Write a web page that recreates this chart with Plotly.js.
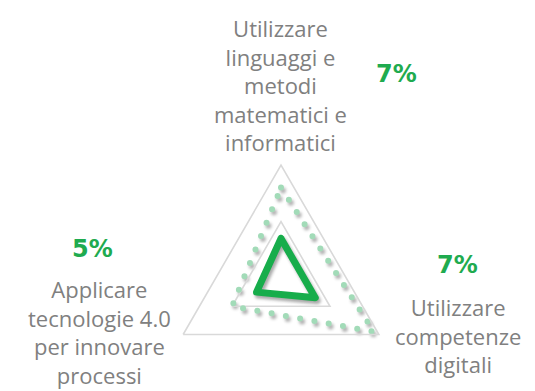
<!DOCTYPE html>
<html>
<head>
<meta charset="utf-8">
<script src="https://cdn.plot.ly/plotly-3.0.1.min.js"></script>
<style>
  html, body { margin: 0; padding: 0; background: #ffffff; overflow: hidden; }
  #wrap { position: relative; width: 535px; height: 391px; }
  #shadow { position: absolute; left: 2px; top: 3px; width: 535px; height: 391px; filter: blur(1.6px); opacity: 0.45; }
  #chart { position: absolute; left: 0; top: 0; width: 535px; height: 391px; }
  .js-line { stroke-linecap: round; stroke-linejoin: round; }
</style>
</head>
<body>
<div id="wrap">
  <div id="shadow"></div>
  <div id="chart"></div>
</div>
<script>
// ---- data ----
const categories = [
  "Utilizzare linguaggi e metodi matematici e informatici",
  "Utilizzare competenze digitali",
  "Applicare tecnologie 4.0 per innovare processi"
];
const labelLines = [
  "Utilizzare<br>linguaggi e<br>metodi<br>matematici e<br>informatici",
  "Utilizzare<br>competenze<br>digitali",
  "Applicare<br>tecnologie 4.0<br>per innovare<br>processi"
];
const seriesMain = [7, 7, 5];          // solid green (%)
const seriesRef = [16, 19, 10];        // dotted light green (%)
const valueLabels = ["7%", "7%", "5%"];
const radialTicks = [10, 20];
const radialMax = 20;

// ---- helpers ----
const W = 535, H = 391;
const px = x => x / W;
const py = y => 1 - y / H;
const close = a => a.concat([a[0]]);

const theta = close(categories);

function polarCfg(showGrid) {
  return {
    domain: { x: [px(168), px(394)], y: [0, 226 / H] },
    bgcolor: "rgba(0,0,0,0)",
    gridshape: "linear",
    radialaxis: {
      range: [0, radialMax],
      tickvals: radialTicks,
      showticklabels: false,
      ticks: "",
      showline: false,
      showgrid: showGrid,
      gridcolor: "#d9d9d9",
      gridwidth: 1.6
    },
    angularaxis: {
      rotation: 90,
      direction: "clockwise",
      showticklabels: false,
      ticks: "",
      showgrid: false,
      showline: showGrid,
      linecolor: "#d9d9d9",
      linewidth: 1.6
    }
  };
}

function traces(shadow) {
  return [
    {
      type: "scatterpolar",
      r: close(seriesRef),
      theta: theta,
      mode: "lines",
      line: { color: shadow ? "#555555" : "#a2dbb8", width: 6, dash: "0px,14.5px" },
      hoverinfo: "skip",
      showlegend: false
    },
    {
      type: "scatterpolar",
      r: close(seriesMain),
      theta: theta,
      mode: "lines",
      line: { color: shadow ? "#444444" : "#17ad4b", width: 7 },
      hoverinfo: "skip",
      showlegend: false
    }
  ];
}

const textFont = { family: "Open Sans, sans-serif", size: 22, color: "#808080" };
const pctFont = { family: "DejaVu Sans, sans-serif", size: 24, color: "#1fab4f", weight: "bold" };

const labelPos = [[280, 85], [458, 335], [99, 332]];
const pctPos = [[396, 74], [457, 265], [92, 249]];

const annotations = [];
for (let i = 0; i < categories.length; i++) {
  annotations.push({
    xref: "paper", yref: "paper",
    x: px(labelPos[i][0]), y: py(labelPos[i][1]),
    xanchor: "center", yanchor: "middle",
    text: labelLines[i], showarrow: false, align: "center",
    font: textFont
  });
  annotations.push({
    xref: "paper", yref: "paper",
    x: px(pctPos[i][0]), y: py(pctPos[i][1]),
    xanchor: "center", yanchor: "middle",
    text: "<b>" + valueLabels[i] + "</b>", showarrow: false,
    font: pctFont
  });
}

const baseLayout = {
  width: W, height: H,
  margin: { l: 0, r: 0, t: 0, b: 0 },
  paper_bgcolor: "rgba(0,0,0,0)",
  plot_bgcolor: "rgba(0,0,0,0)",
  showlegend: false
};

Plotly.newPlot("shadow", traces(true),
  Object.assign({}, baseLayout, { polar: polarCfg(false) }),
  { staticPlot: true });

Plotly.newPlot("chart", traces(false),
  Object.assign({}, baseLayout, { polar: polarCfg(true), annotations: annotations }),
  { staticPlot: true });
</script>
</body>
</html>
